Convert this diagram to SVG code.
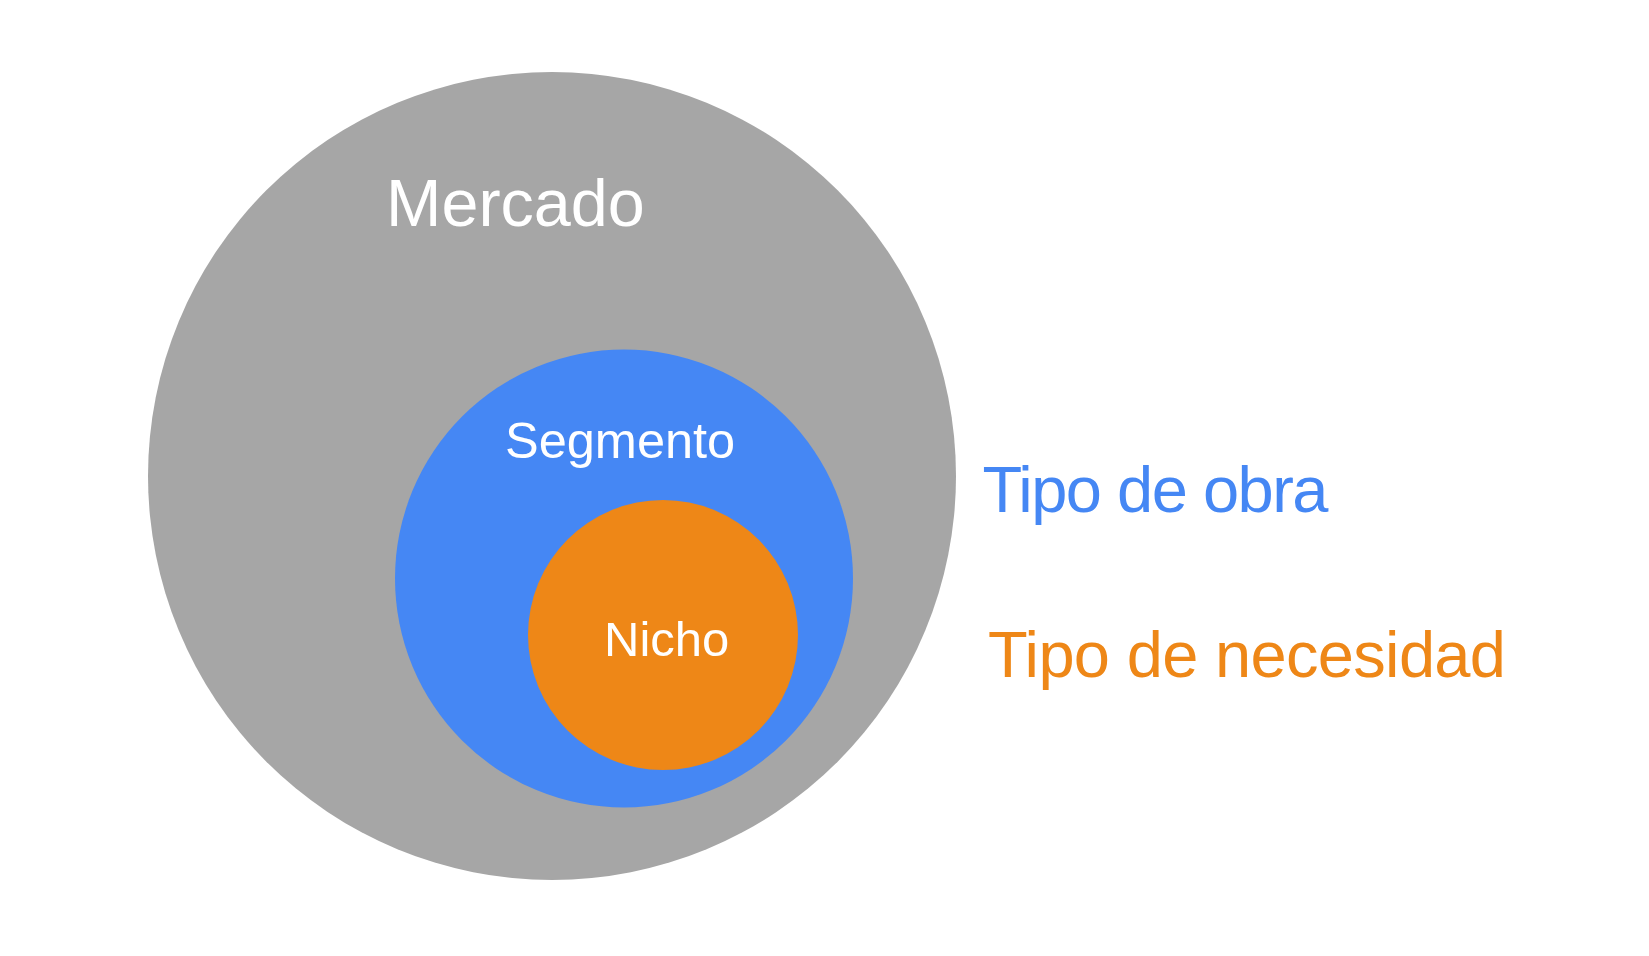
<svg xmlns="http://www.w3.org/2000/svg" width="1649" height="956" viewBox="0 0 1649 956">
<style>
text{font-family:"Liberation Sans",Arial,sans-serif}
.w{fill:#ffffff}
.b{fill:#4587F4}
.o{fill:#EE8717}
</style>
<rect x="0" y="0" width="1649" height="956" fill="#ffffff"/>
<g id="mercado">
<circle cx="552" cy="476" r="404" fill="#A6A6A6"/>
<text class="w" x="386" y="226" font-size="66.5">Mercado</text>
</g>
<g id="segmento">
<circle cx="624" cy="578.5" r="229" fill="#4587F4"/>
<text class="w" x="505" y="457.5" font-size="50.5">Segmento</text>
</g>
<g id="nicho">
<circle cx="663" cy="635" r="135" fill="#EE8717"/>
<text class="w" x="604" y="656" font-size="49">Nicho</text>
</g>
<g id="tipo-obra">
<text class="b" x="982.5" y="512" font-size="65" textLength="346" lengthAdjust="spacing">Tipo de obra</text>
</g>
<g id="tipo-necesidad">
<text class="o" x="988" y="677" font-size="65" textLength="518" lengthAdjust="spacing">Tipo de necesidad</text>
</g>
<g id="connectors"></g>
</svg>
